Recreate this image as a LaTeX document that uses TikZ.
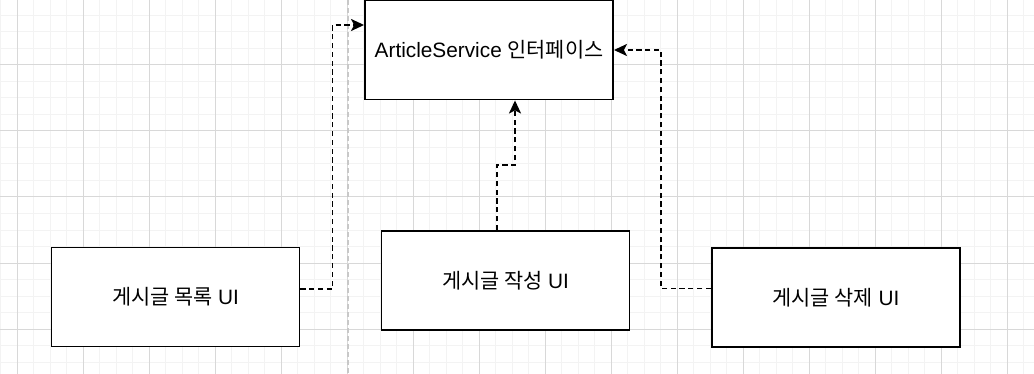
\documentclass[tikz,border=0pt]{standalone}
\usepackage{fontspec}
\setmainfont{Liberation Sans}
\newfontfamily\krfont{Noto Sans CJK KR}
\usetikzlibrary{arrows.meta}
\definecolor{gridminor}{RGB}{243,243,243}
\definecolor{gridmajor}{RGB}{216,216,216}
\definecolor{guide}{RGB}{200,200,200}

\begin{document}
\begin{tikzpicture}[x=.5pt,y=-.5pt,>={Stealth[length=6.5pt,width=6pt,inset=1.5pt]},
 box/.style={draw,fill=white,line width=.95pt,minimum width=124pt,minimum height=49.5pt,inner sep=0pt,
  font=\fontsize{10.4}{12}\selectfont},
 dep/.style={->,line width=.9pt,dash pattern=on 2.6pt off 1.8pt}]
\useasboundingbox (0,0) rectangle (1034,374);
\begin{scope}
\clip (0,0) rectangle (1034,374);
\foreach \i in {0,...,62} \draw[gridminor,line width=.5pt] (.5+16.5*\i,0)--(.5+16.5*\i,374);
\foreach \j in {0,...,23} \draw[gridminor,line width=.5pt] (0,-1+16.5*\j)--(1034,-1+16.5*\j);
\foreach \i in {0,...,15} \draw[gridmajor,line width=.5pt] (17+66*\i,0)--(17+66*\i,374);
\foreach \j in {0,...,6} \draw[gridmajor,line width=.5pt] (0,-1+66*\j)--(1034,-1+66*\j);
\end{scope}
\draw[guide,line width=1pt,dash pattern=on 2.5pt off 1.5pt] (348,0)--(348,374);
\node[box] (svc) at (489,50) {ArticleService {\krfont 인터페이스}};
\node[box] (listui) at (175.5,297) {{\krfont 게시글 목록} UI};
\node[box] (writeui) at (505.5,280.5) {{\krfont 게시글 작성} UI};
\node[box] (delui) at (836,297.5) {{\krfont 게시글 삭제} UI};
\draw[dep] ([yshift=4pt]listui.east) -- ++(32,0) |- ([yshift=12.5pt]svc.west);
\draw[dep] ([xshift=-4.25pt]writeui.north) -- ++(0,-65) -| ([xshift=13pt]svc.south);
\draw[dep] ([yshift=4.5pt]delui.west) -- ++(-50,0) |- (svc.east);
\end{tikzpicture}
\end{document}
